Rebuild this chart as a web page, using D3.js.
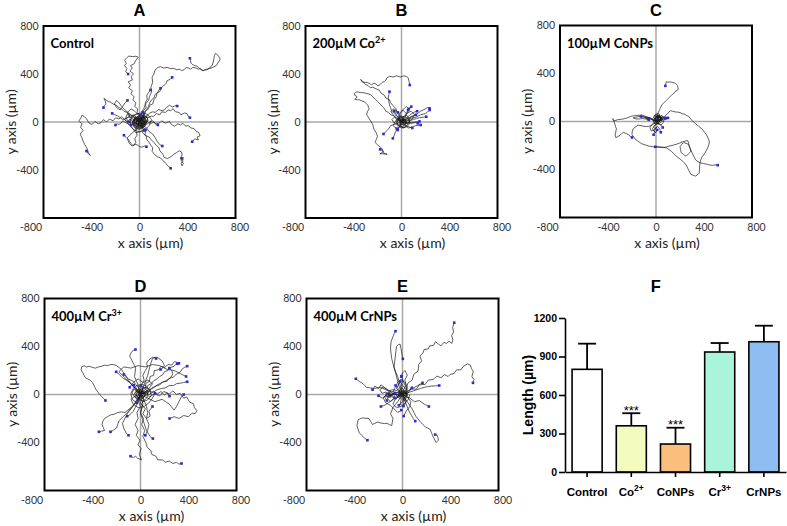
<!DOCTYPE html>
<html><head><meta charset="utf-8">
<script src="https://cdn.jsdelivr.net/npm/d3@7"></script>
<style>body{margin:0;background:#fff} svg{display:block}</style>
</head><body>
<svg id="c" width="787" height="526"></svg>
<script>
// ---------------- DATA ----------------
// Trajectory tracks (µm): each string lists "x,y" points of one cell track; last point = end position
const tracksA = [
 "0,0 -10,30 5,55 -20,80 -15,110 -40,130 -30,160 -55,185 -45,210 -70,235 -60,260 -90,285 -75,310 -95,335 -60,350 -70,380 -50,400 -80,425 -60,450 -75,470 -45,485 -30,515 -10,540 -30,548 -60,545 -90,550 -110,530 -125,515 -110,490 -125,470 -105,445 -115,420 -95,400",
 "0,0 -30,20 -55,5 -80,25 -100,0 -125,20 -150,45 -170,25 -200,35 -220,10 -250,25 -275,0 -300,20 -320,-5 -345,-15 -370,5 -395,-20 -420,-10 -440,25 -460,45 -478,58 -490,30 -505,10 -480,-15 -490,-45 -470,-70 -495,-100 -480,-130 -470,-160 -455,-190 -440,-215 -425,-255 -410,-280 -430,-260 -442,-242",
 "0,0 25,-25 20,-55 50,-80 45,-110 80,-125 100,-150 120,-170 140,-195 160,-210 170,-240 195,-270 205,-295 235,-305 260,-290 285,-270 310,-255 330,-240 350,-250 355,-275 340,-300 350,-325 365,-345 355,-365 345,-345 362,-330 356,-303",
 "0,0 15,-35 35,-60 25,-90 55,-115 60,-145 80,-170 95,-195 110,-215 105,-245 125,-270 150,-290 175,-300 200,-325 220,-345 235,-365 250,-375 259,-386",
 "0,0 20,15 45,-5 60,10 90,-15 120,0 135,-20 170,-5 185,10 215,-10 250,5 265,-20 290,-35 320,-15 340,-25 360,-10 385,-35 405,-30 430,-50 455,-55 470,-75 495,-90 505,-115 480,-125 490,-150 460,-140 439,-164",
 "0,0 30,20 45,40 70,35 100,50 115,45 140,70 170,60 185,85 215,80 240,100 260,95 280,110 300,85 330,80 345,60 375,75 395,70 405,50 420,36",
 "0,0 15,30 40,45 60,50 85,75 110,85 130,80 160,105 180,95 205,100 230,125 250,140 275,125 295,135 314,133",
 "0,0 20,40 40,55 50,90 75,110 85,140 110,150 120,185 140,210 145,240 170,255 180,285 200,300 220,320 230,345 255,355 272,372",
 "0,0 15,30 35,50 40,80 60,105 75,130 85,160 100,185 120,200 130,230 150,245 160,265 175,281",
 "0,0 5,30 20,55 15,85 35,110 45,135 50,165 65,190 60,220 75,245 92,267",
 "0,0 20,30 35,60 30,90 55,120 50,150 75,180 85,215 100,250 95,290 110,330 105,370 120,400 130,434 155,455 175,461 200,450 230,455 260,445 286,447 310,435 330,440 350,430 370,434 390,455 410,450 425,440 445,455 470,450 490,440 509,447 530,425 545,435 564,434 580,450 596,460 606,475 615,500 620,530 625,555 634,572 650,560 665,540 672,525 670,517 655,495 640,470 620,460 600,450 580,445 560,440 540,432 520,430 500,445 480,465 460,470 440,480 430,490 425,510 420,531",
 "0,0 -20,25 -45,35 -65,55 -80,60 -105,80 -130,90 -150,110 -170,120 -195,140 -220,150 -240,165 -260,170 -280,185 -297,197 -285,175 -280,150 -295,135 -300,120",
 "0,0 -25,15 -50,20 -70,35 -90,40 -115,30 -140,20 -160,35 -180,50 -205,60 -228,72",
 "0,0 -20,-15 -40,-10 -65,-25 -90,-20 -115,-5 -140,10 -155,-10 -170,-20 -185,-15 -200,-25",
 "0,0 -15,-30 -30,-50 -40,-75 -60,-90 -80,-110 -100,-130 -95,-155 -90,-170 -75,-190 -60,-200 -40,-185 -20,-190 0,-205 20,-210 40,-200 58,-206",
 "0,0 15,-20 20,-35 40,-50 50,-67",
 "0,0 30,-15 60,-20 85,0 110,10 130,-10 153,-25",
 "0,0 -30,30 -60,50 -90,75 -120,100 -150,130 -170,160 -190,180 -210,150 -190,120 -160,100 -140,130 -120,160 -100,180",
 "0,0 -10,-40 -30,-70 -20,-110 -40,-140 -30,-170 -50,-200 -70,-180 -90,-150 -110,-130 -130,-110",
 "0,0 30,-30 60,-50 80,-80 110,-100 130,-130 147,-160 170,-190 190,-200",
 "0,0 15,20 -10,40 -30,15 -20,-25 10,-35 30,-10 20,25 -5,10 -25,35 -45,10 -35,-30 -5,-50 25,-40 45,-10 35,30",
 "0,0 -25,10 -40,-15 -15,-40 20,-30 40,5 25,35 -10,30 -35,45 -50,20 -60,-15 -40,-45 -10,-60 20,-55 50,-30 60,10 40,45 10,60",
 "0,0 20,-15 45,-5 30,30 -5,50 -40,30 -60,-10 -40,-45 0,-60 35,-40 55,-15 70,25 45,55 10,75 -25,65 -55,45 -75,15 -70,-25",
 "0,0 -10,-20 15,-45 40,-30 55,0 40,40 0,55 -30,35 -55,5 -45,-35 -20,-20 5,-15 25,10 10,25 -15,20",
 "0,0 30,10 10,35 -20,25 -35,-5 -15,-30 25,-25 50,15 20,60 -20,70 -60,50 -80,10 -70,-40 -40,-70 0,-80 40,-70",
 "0,0 -20,30 -50,60 -80,40 -100,70 -120,20 -90,-20 -60,-50 -30,-90 10,-80 50,-60 80,-30 100,20 70,60 30,80",
 "0,0 40,-20 70,10 60,50 20,30 -10,60 -40,90 -70,110 -100,80 -80,50 -110,30 -90,0",
 "0,0 10,15 -15,25 -5,-10 15,-20 30,5 5,30 -25,15 -15,-25 20,-35 40,-15 25,20",
 "0,0 -15,5 -5,-20 20,-10 10,20 -20,10 -30,-15 -5,-30 25,-25 35,5 15,30 -15,35 -40,20 -45,-10",
 "0,0 25,25 5,45 -25,40 -45,20 -50,-15 -30,-40 0,-45 30,-35 50,-10 45,25 25,50"
];
const tracksB = [
 "0,0 -15,25 -20,55 -40,80 -45,110 -70,135 -90,160 -100,185 -130,200 -145,225 -170,240 -185,265 -210,275 -240,290 -260,285 -280,305 -305,315 -320,335 -340,355 -330,335 -310,330 -285,330 -265,320 -250,310 -230,325 -210,315 -197,300 -175,315 -160,330 -140,340 -130,350 -120,370 -100,380 -70,375 -40,385 -10,375 20,385 40,380 55,370 60,350 65,330 69,308",
 "0,0 -20,15 -40,30 -60,50 -75,55 -90,60 -110,80 -130,90 -145,115 -160,130 -180,150 -200,170 -215,185 -230,200 -245,215 -260,230 -280,235 -300,240 -320,245 -340,245 -360,250 -375,250 -390,240 -392,225 -375,215 -370,205 -385,195 -390,190 -370,185 -350,185 -330,175 -310,170 -295,155 -280,140 -275,120 -270,110 -285,85 -290,60 -280,45 -270,30 -255,5 -240,-20 -235,-40 -230,-60 -220,-75 -210,-90 -205,-105 -200,-120 -210,-145 -220,-170 -205,-185 -190,-200 -175,-210 -160,-225 -155,-245 -150,-260 -135,-262 -120,-270 -150,-265 -180,-265 -165,-255 -150,-245 -165,-235 -178,-228",
 "0,0 -15,20 -20,30 -35,45 -50,60 -65,75 -80,90 -90,115 -100,140 -105,170 -110,200 -105,230 -100,253",
 "0,0 20,15 40,20 60,30 80,40 100,50 120,60 140,75 160,90 180,100 200,110 215,120 233,114",
 "0,0 25,5 50,10 75,15 100,20 125,30 150,35 180,40 206,44",
 "0,0 20,-5 40,-5 65,-10 90,-10 115,-5 136,-11",
 "0,0 15,20 30,40 40,60 50,80 65,105 81,128",
 "0,0 -10,-20 -20,-40 -35,-60 -50,-80 -60,-110 -72,-136",
 "0,0 -10,-30 -31,-67",
 "0,0 -30,-10 -60,-20 -90,-30 -110,-60 -130,-80 -150,-100",
 "0,0 30,20 60,35 90,50 120,60",
 "0,0 40,30 70,60 100,80 130,90",
 "0,0 35,-10 70,-5 110,0 150,5",
 "0,0 30,-25 60,-40 90,-50",
 "0,0 20,40 40,70 55,100",
 "0,0 -30,40 -50,70 -60,90",
 "0,0 20,30 -10,50 -40,20 -30,-20 10,-40 40,-10 30,25 5,10 -20,30 -45,5 -30,-30 0,-50 30,-40",
 "0,0 -30,15 -60,40 -80,20 -60,-10 -20,-30 20,-50 50,-20 70,20 40,60 10,40 -20,50",
 "0,0 25,-20 60,-5 90,25 110,60 80,90 40,70 10,100 -10,70 -30,40",
 "0,0 -15,-25 10,-50 45,-40 70,-10 55,30 20,45 -20,35 -50,10 -70,-30 -40,-55",
 "0,0 40,10 80,30 120,40 160,60 200,70 235,100",
 "0,0 30,-30 60,-50 90,-40 120,-30 160,-25",
 "0,0 -40,30 -70,60 -90,90 -60,110 -30,80",
 "0,0 10,40 -20,70 10,100 40,130 60,110",
 "0,0 15,15 -5,30 -20,10 -10,-15 15,-25 35,-5 25,20 0,35 -25,25 -35,0",
 "0,0 -10,10 10,20 25,5 15,-15 -5,-20 -20,-5 -10,15 20,25 40,10 35,-15 15,-30"
];
const tracksC = [
 "0,0 5,25 10,50 20,75 30,100 40,120 50,140 65,155 80,170 95,185 110,200 125,215 140,230 155,240 165,255 180,262 185,270 182,285 180,300 170,310 160,320 140,325 120,330 100,328 85,330 82,318 80,310 78,297",
 "0,0 20,10 40,20 60,35 80,50 100,70 120,90 140,85 160,80 180,78 200,75 220,65 240,60 255,50 270,45 285,25 300,10 315,-5 330,-20 345,-30 360,-45 375,-55 390,-70 405,-90 420,-110 435,-140 445,-170 440,-195 430,-220 420,-240 410,-260 395,-280 380,-300 370,-330 365,-360 362,-395 360,-430 345,-445 330,-455 310,-448 290,-440 280,-420 270,-400 260,-380 250,-360 230,-340 210,-320 190,-305 170,-290 150,-270 130,-250 110,-235 90,-222 65,-215 40,-212 15,-210 -6,-211",
 "0,0 -15,-15 -30,-30 -45,-35 -60,-40 -80,-42 -100,-40 -125,-35 -150,-30 -170,-45 -190,-60 -198,-85 -200,-110 -185,-130 -170,-150 -145,-168 -120,-185 -90,-195 -60,-205 -30,-210 0,-212 30,-215 60,-218 85,-212 110,-205 140,-198 170,-190 195,-180 220,-170 245,-162 265,-160 272,-180 275,-200 285,-225 290,-250 270,-270 250,-290 230,-275 210,-260 205,-235 200,-210 215,-190 230,-175 250,-182 270,-190 285,-225 300,-260 315,-290 330,-320 350,-335 370,-345 395,-350 420,-355 445,-362 470,-365 490,-362 514,-364",
 "0,0 -20,10 -40,20 -60,30 -80,40 -100,48 -120,55 -140,52 -160,50 -180,48 -200,45 -220,38 -240,30 -260,25 -280,20 -300,18 -320,15 -335,10 -350,5 -358,15 -360,25 -352,5 -345,-15 -338,-40 -330,-60 -335,-85 -340,-110 -338,-125 -335,-135 -318,-125 -300,-115 -285,-100 -270,-90 -250,-100 -230,-110 -215,-122 -200,-133",
 "0,0 -25,15 -50,30 -75,35 -100,40 -125,42 -150,40 -170,35 -190,30 -175,25 -160,20 -135,22 -110,25 -85,20 -60,15",
 "0,0 20,30 -10,50 -30,20 -10,-20 20,-10 40,20 20,50 0,35 -15,10 5,-5 25,15",
 "0,0 -20,20 10,45 40,30 60,10 30,-15 -10,-30 -30,-60 -10,-90 -20,-110",
 "0,0 30,10 60,30 80,20 100,30",
 "0,0 -10,40 10,70 30,60 20,30 50,40 80,30",
 "0,0 -30,-20 -50,-50 -40,-80 -10,-70 10,-40 30,-60 40,-90",
 "0,0 15,-20 40,-30 60,-10 70,20 50,50 20,40 0,60 -20,45",
 "0,0 -25,10 -45,30 -70,35 -90,30 -60,20",
 "0,0 -20,10 -40,20 -60,25 -80,30 -100,35 -125,42",
 "0,0 20,5 40,10 60,18 78,25",
 "0,0 15,-10 30,-20 45,-35 56,-50",
 "0,0 10,20 25,35 15,50 30,40 45,30 35,10 20,25 5,40 -10,25 5,10 25,5 40,20 30,45",
 "0,0 15,15 30,5 20,-10 5,5 20,25 35,15 45,35 25,50 10,35 25,20 40,5 50,25",
 "0,0 -10,15 5,30 20,20 10,5 25,-5 40,10 30,30 15,45 0,30 -15,20 -5,5",
 "0,0 10,-15 -5,-30 -20,-45 -10,-60 5,-45 -15,-75 -5,-95 10,-70",
 "0,0 25,10 45,25 35,45 15,55 0,40 20,30 40,40 55,25 45,5",
 "0,0 -15,-10 -5,-25 10,-15 0,5 20,15 30,0 15,-20"
];
const tracksD = [
 "0,0 -10,40 -20,80 -35,115 -50,150 -45,185 -40,220 -55,250 -70,280 -80,300 -90,320 -80,345 -70,360 -55,370 -42,375",
 "0,0 -25,20 -40,40 -60,65 -80,90 -100,120 -120,150 -140,180 -160,210 -180,225 -200,240 -225,250 -250,250 -275,240 -300,245 -325,235 -350,230 -375,220 -400,225 -425,235 -450,230 -470,240 -490,230 -495,205 -480,180 -470,160 -460,140 -440,130 -420,120 -400,100 -390,80 -380,60 -370,40 -355,20 -340,0 -325,-15 -310,-30 -300,-40 -292,-50",
 "0,0 -15,-30 -30,-60 -55,-85 -80,-110 -105,-130 -130,-150 -160,-145 -190,-150 -220,-165 -250,-170 -275,-185 -300,-200 -315,-225 -320,-250 -310,-275 -300,-300 -325,-305 -347,-311",
 "0,0 -25,-40 -50,-80 -75,-110 -100,-140 -120,-160 -140,-180 -160,-200 -180,-220 -190,-250 -200,-280 -215,-290 -230,-300 -250,-311",
 "0,0 -20,-50 0,-100 -30,-150 -20,-200 -45,-250 -20,-300 -35,-340 -5,-380 -20,-420 5,-450 -10,-500 8,-545 -25,-530 -40,-515 -60,-525 -83,-514",
 "0,0 -10,-50 15,-95 0,-150 25,-200 10,-250 35,-300 20,-350 45,-400 55,-440 85,-465 95,-500 130,-515 145,-545 185,-545 205,-565 240,-555 270,-575 300,-565 320,-580 342,-575",
 "0,0 10,-40 20,-80 10,-120 0,-160 15,-200 30,-240 40,-270 50,-300 65,-325 80,-350 90,-360 103,-367",
 "0,0 40,15 75,-20 115,5 160,-10 195,25 240,5 270,30 300,0 330,10 360,-30 385,-20 410,-65 440,-75 450,-110 470,-135 455,-160 430,-155 400,-185 360,-175 320,-200 280,-185 242,-200",
 "0,0 20,25 45,45 60,75 90,90 110,115 130,125 160,150 185,165 200,190 230,200 250,225 280,235 290,250 306,256",
 "0,0 30,15 70,30 95,55 130,70 160,80 185,105 220,110 240,135 275,145 300,170 330,185 345,210 365,225 389,236",
 "0,0 35,10 70,25 105,20 140,40 175,50 205,55 240,75 275,75 300,90 335,95 360,100 389,106",
 "0,0 40,20 70,0 110,25 140,5 170,25 200,-5 220,15 242,-14",
 "0,0 15,40 30,80 45,120 60,160 70,200 80,240 90,270 100,300 120,310 140,310 160,295 180,280 190,260 200,240 185,220 167,208",
 "0,0 10,40 40,55 45,95 75,110 80,150 110,160 115,200 150,205 170,235 200,225 230,250 260,245 285,275 320,260",
 "0,0 -10,30 -20,60 -40,85 -60,110 -80,120 -100,130 -120,150 -139,167",
 "0,0 -20,25 -40,50 -65,75 -90,100 -120,120 -150,140 -175,165 -203,189",
 "0,0 -15,-40 -30,-80 -45,-110 -60,-140 -75,-155 -90,-170 -111,-181",
 "0,0 -20,30 -40,60 -56,78",
 "0,0 -30,35 -60,70 -90,100 -120,130 -150,160 -180,190 -160,210 -140,230 -110,225 -80,220 -50,230 -20,240 10,235 40,230 70,240 100,250 130,245 160,240 190,225 220,210 250,205 280,200 310,185 340,170 360,160 380,150",
 "0,0 30,-15 60,-30 90,-45 120,-60 150,-50 180,-40 210,-60 240,-80 260,-105 280,-130 290,-115 300,-100 310,-80 320,-60 330,-40 340,-20 350,-10 360,0",
 "0,0 20,40 10,80 30,120 20,160 40,200 60,230 50,260 70,290 100,310 130,300",
 "0,0 50,30 100,50 140,80 180,100 220,120 250,140 270,170 260,200 240,220",
 "0,0 -30,-40 -50,-80 -80,-120 -110,-160 -130,-200 -150,-240 -140,-280 -120,-320 -100,-340",
 "0,0 30,-50 50,-100 60,-150 50,-200 70,-250 60,-300 40,-340",
 "0,0 20,30 -10,50 -40,20 -30,-25 10,-40 40,-10 30,30 -5,15 -25,40 -50,10 -35,-35",
 "0,0 -30,20 -55,45 -70,15 -50,-20 -15,-45 25,-55 55,-25 60,20 35,55 0,70",
 "0,0 25,-20 55,0 75,35 50,70 10,85 -30,75 -60,50 -80,10 -70,-40 -30,-70",
 "0,0 -15,-30 20,-60 60,-45 90,-10 80,40 40,60 -10,40",
 "0,0 40,20 70,50 100,90 60,120 20,100 -20,130 -60,100 -90,60",
 "0,0 -40,-10 -80,-40 -60,-80 -20,-110 30,-100 70,-70 100,-30 120,10",
 "0,0 30,-40 10,-80 40,-120 20,-160 50,-200 80,-180 70,-140 100,-100",
 "0,0 15,15 -5,30 -20,10 -10,-15 15,-25 35,-5 25,20 0,35 -25,25 -35,0 -20,-25",
 "0,0 -10,10 10,20 25,5 15,-15 -5,-20 -20,-5 -10,15 20,25 40,10 35,-15 15,-30"
];
const tracksE = [
 "0,0 30,40 45,95 80,120 95,170 130,195 135,250 160,280 145,320 170,345 180,375 215,380 225,405 260,410 275,440 300,420 320,405 345,435 365,425 390,445 410,425 420,455 410,490 425,520 418,560 431,598",
 "0,0 45,10 70,45 115,45 140,80 190,85 215,120 255,125 286,153 320,140 350,165 380,150 397,167 430,175 450,205 485,205 509,236 540,255 565,245 575,215 590,190 578,150 595,125 587,97",
 "0,0 30,10 60,20 90,30 120,40 150,50 180,60 210,65 240,70 275,72 306,75",
 "0,0 30,20 60,40 90,55 120,70 145,85 167,97",
 "0,0 -10,40 -20,80 -30,115 -40,150 -55,185 -70,220 -80,260 -90,300 -95,340 -100,380 -98,410 -95,440 -88,460 -80,480 -70,505 -58,528",
 "0,0 -15,35 -30,70 -40,110 -50,150 -60,190 -70,230 -65,275 -60,320 -55,360 -50,400 -35,415 -20,420 -15,395 -10,370 -5,335 3,297",
 "0,0 -30,10 -60,20 -90,25 -120,30 -150,45 -180,60 -210,55 -240,50 -270,55 -300,60 -315,75 -330,90 -345,100 -360,110 -375,120 -389,131",
 "0,0 -20,-30 -40,-60 -60,-85 -80,-110 -90,-135 -100,-160 -90,-180 -80,-200 -85,-230 -90,-260 -110,-250 -130,-240 -150,-242 -170,-240 -190,-235 -210,-230 -230,-240 -250,-250 -265,-225 -280,-200 -305,-198 -330,-195 -350,-200 -370,-210 -375,-235 -380,-260 -370,-290 -360,-320 -340,-340 -320,-360 -305,-372 -292,-381",
 "0,0 20,-30 40,-60 60,-90 80,-120 95,-150 110,-180 130,-205 150,-230 170,-250 190,-270 210,-280 230,-290 240,-315 250,-340 265,-370 280,-400 290,-390 300,-380 295,-360 290,-340 280,-335 272,-334",
 "0,0 15,-40 30,-80 45,-115 60,-150 75,-175 90,-200 98,-212 106,-222",
 "0,0 -40,-10 -80,10 -110,-10 -140,20 -170,10 -190,40 -160,60 -120,40 -100,10 -130,-30 -100,-60 -70,-30 -90,0 -120,10 -150,-20 -130,-50",
 "0,0 -50,-30 -90,-20 -130,0 -160,-30 -140,-70 -100,-90 -70,-120 -40,-150 -10,-130",
 "0,0 -40,30 -80,40 -120,30 -150,60 -180,80 -200,50 -230,70 -250,40",
 "0,0 -10,30 -5,60 -10,90 5,110 0,130 -8,153",
 "0,0 20,10 40,20 60,40 78,56",
 "0,0 30,-15 60,-30 80,-45 100,-60 120,-55 140,-50 160,-65 180,-80 200,-90 220,-100",
 "0,0 -15,20 -30,40 -45,60 -58,75",
 "0,0 5,-25 10,-50 10,-75 8,-97",
 "0,0 10,40 30,80 20,120 40,160 20,200 0,180 -10,150",
 "0,0 -50,-20 -90,-50 -120,-70 -150,-90 -180,-100",
 "0,0 -30,20 -70,10 -110,-20 -140,-10 -170,-30 -200,-10",
 "0,0 40,-20 70,-60 60,-100 30,-140 10,-180",
 "0,0 20,30 -10,60 -30,20 -10,-30 20,-50 40,-10 30,40 0,80 -20,110",
 "0,0 -20,20 -50,50 -30,90 0,120 20,80 40,40 30,-10 0,-60 -30,-90",
 "0,0 15,-25 30,-60 10,-100 -20,-80 -10,-40 -40,-20 -60,10",
 "0,0 25,15 40,60 20,100 -10,130 -40,100 -60,60 -80,20 -60,-30",
 "0,0 -30,-10 -60,-40 -80,-80 -50,-110 -10,-100 20,-70 50,-40 60,0",
 "0,0 15,15 -5,30 -20,10 -10,-15 15,-25 35,-5 25,20 0,35 -25,25 -35,0 -20,-25",
 "0,0 -10,10 10,20 25,5 15,-15 -5,-20 -20,-5 -10,15 20,25 40,10 35,-15 15,-30",
 "0,0 -100,0 -120,20 -140,-10 -110,-30 -90,-10 -120,0 -100,25 -80,5 -105,-15 -130,5"
];
const axisTicksX = [-800, -400, 0, 400, 800];
const axisTicksY = [800, 400, 0, -400];

// Bar chart (panel F)
const barCategories = ["Control", "Co2+", "CoNPs", "Cr3+", "CrNPs"];
const barLabelMain = ["Control", "Co", "CoNPs", "Cr", "CrNPs"];
const barLabelSup = ["", "2+", "", "3+", ""];
const barMeans = [800, 360, 218, 935, 1015];
const barErrTop = [1000, 458, 345, 1005, 1140];
const barStars = ["", "***", "***", "", ""];
const barColors = ["#ffffff", "#f3fbbf", "#fbbf7d", "#abf4dc", "#8ebdf2"];
const lengthTicks = [0, 300, 600, 900, 1200];

// ---------------- DRAW ----------------
const svg = d3.select("#c");
const FONT = "Lato, 'Open Sans', sans-serif";
const TFONT = "'Liberation Sans', Arial, sans-serif";
const SIZE = 192;
const panels = [
  {letter: "A", main: "Control", sup: "", left: 43.5, top: 26, titleY: 15.5, tracks: tracksA},
  {letter: "B", main: "200µM Co", sup: "2+", left: 305.5, top: 26, titleY: 15.5, tracks: tracksB},
  {letter: "C", main: "100µM CoNPs", sup: "", left: 560, top: 25.5, titleY: 15.5, tracks: tracksC},
  {letter: "D", main: "400µM Cr", sup: "3+", left: 44.5, top: 298.5, titleY: 292, tracks: tracksD},
  {letter: "E", main: "400µM CrNPs", sup: "", left: 306.5, top: 298.5, titleY: 292, tracks: tracksE}
];
const parse = s => s.split(" ").map(p => p.split(",").map(Number));
const plain = d => String(d);

panels.forEach(p => {
  const x = d3.scaleLinear().domain([-800, 800]).range([p.left, p.left + SIZE]);
  const y = d3.scaleLinear().domain([-800, 800]).range([p.top + SIZE, p.top]);
  const g = svg.append("g");

  g.append("line").attr("x1", x(0)).attr("x2", x(0)).attr("y1", y(800)).attr("y2", y(-800))
    .attr("stroke", "#a8a8a8").attr("stroke-width", 1.5);
  g.append("line").attr("x1", x(-800)).attr("x2", x(800)).attr("y1", y(0)).attr("y2", y(0))
    .attr("stroke", "#a8a8a8").attr("stroke-width", 1.5);

  const data = p.tracks.map(parse);
  const line = d3.line().x(d => x(d[0])).y(d => y(d[1]));
  g.selectAll("path.trk").data(data).join("path").attr("class", "trk")
    .attr("d", line).attr("fill", "none").attr("stroke", "#1a1a1a").attr("stroke-width", 0.7)
    .attr("stroke-linejoin", "round");
  const ends = data.map(d => d[d.length - 1]).filter(e => Math.hypot(e[0], e[1]) > 60);
  g.selectAll("rect.end").data(ends).join("rect").attr("class", "end")
    .attr("x", e => x(e[0]) - 1.3).attr("y", e => y(e[1]) - 1.3)
    .attr("width", 2.6).attr("height", 2.6).attr("fill", "#2b2bd0");

  g.append("rect").attr("x", p.left).attr("y", p.top).attr("width", SIZE).attr("height", SIZE)
    .attr("fill", "none").attr("stroke", "#000").attr("stroke-width", 2);

  const ax = g.append("g").attr("transform", `translate(0,${p.top + SIZE})`)
    .call(d3.axisBottom(x).tickValues(axisTicksX).tickFormat(plain).tickSize(0).tickPadding(6));
  ax.select(".domain").remove();
  ax.selectAll("text").attr("font-family", FONT).attr("font-size", 10.5).attr("fill", "#333")
    .attr("dx", d => d === -800 ? -13 : (d === 800 ? 4 : 0));
  const ay = g.append("g").attr("transform", `translate(${p.left},0)`)
    .call(d3.axisLeft(y).tickValues(axisTicksY).tickFormat(plain).tickSize(0).tickPadding(5));
  ay.select(".domain").remove();
  ay.selectAll("text").attr("font-family", FONT).attr("font-size", 10.5).attr("fill", "#333");

  g.append("text").attr("x", p.left + SIZE / 2 + 11).attr("y", p.top + SIZE + 30)
    .attr("text-anchor", "middle").attr("font-family", FONT).attr("font-size", 14).attr("fill", "#222")
    .text("x axis (µm)");
  g.append("text").attr("transform", `translate(${p.left - 28},${p.top + SIZE / 2}) rotate(-90)`)
    .attr("text-anchor", "middle").attr("font-family", FONT).attr("font-size", 14).attr("fill", "#222")
    .text("y axis (µm)");

  g.append("text").attr("x", x(0)).attr("y", p.titleY).attr("text-anchor", "middle")
    .attr("font-family", TFONT).attr("font-weight", "bold").attr("font-size", 16.5).text(p.letter);

  const t = g.append("text").attr("x", p.left + 7).attr("y", p.top + 22)
    .attr("font-family", FONT).attr("font-weight", "bold").attr("font-size", 13);
  t.append("tspan").text(p.main);
  if (p.sup) t.append("tspan").attr("dy", -5).attr("font-size", 9).text(p.sup);
});

// ---------------- Panel F (bar chart) ----------------
(function () {
  const AF = "'Liberation Sans', Arial, sans-serif";
  const left = 565, right = 786, y0 = 472, y1 = 318;
  const xb = d3.scaleBand().domain(barCategories).range([left, right]).paddingInner(0.32).paddingOuter(0.16);
  const yb = d3.scaleLinear().domain([0, 1200]).range([y0, y1]);
  const g = svg.append("g");
  const rows = barCategories.map((c, i) => ({c, m: barMeans[i], e: barErrTop[i], col: barColors[i], s: barStars[i], lm: barLabelMain[i], ls: barLabelSup[i]}));
  const cx = d => xb(d.c) + xb.bandwidth() / 2;

  g.selectAll("line.err").data(rows).join("line").attr("class", "err")
    .attr("x1", cx).attr("x2", cx)
    .attr("y1", d => yb(d.m)).attr("y2", d => yb(d.e)).attr("stroke", "#000").attr("stroke-width", 1.8);
  g.selectAll("line.cap").data(rows).join("line").attr("class", "cap")
    .attr("x1", d => cx(d) - 9).attr("x2", d => cx(d) + 9)
    .attr("y1", d => yb(d.e)).attr("y2", d => yb(d.e)).attr("stroke", "#000").attr("stroke-width", 1.8);

  g.selectAll("rect.bar").data(rows).join("rect").attr("class", "bar")
    .attr("x", d => xb(d.c)).attr("width", xb.bandwidth())
    .attr("y", d => yb(d.m)).attr("height", d => yb(0) - yb(d.m))
    .attr("fill", d => d.col).attr("stroke", "#000").attr("stroke-width", 1.6);

  g.selectAll("text.star").data(rows.filter(d => d.s)).join("text").attr("class", "star")
    .attr("x", cx).attr("y", d => yb(d.e) + 1.5)
    .attr("text-anchor", "middle").attr("font-family", AF).attr("font-size", 13).text(d => d.s);

  const ay = g.append("g").attr("transform", `translate(${left},0)`)
    .call(d3.axisLeft(yb).tickValues(lengthTicks).tickSize(6).tickSizeOuter(0).tickPadding(2).tickFormat(d3.format("d")));
  ay.select(".domain").attr("stroke-width", 1.6);
  ay.selectAll(".tick line").attr("stroke-width", 1.6);
  ay.selectAll("text").attr("font-family", AF).attr("font-weight", "bold").attr("font-size", 10.5).attr("fill", "#000");

  const ax = g.append("g").attr("transform", `translate(0,${y0})`)
    .call(d3.axisBottom(xb).tickSize(5).tickSizeOuter(0).tickFormat(""));
  ax.select(".domain").attr("stroke-width", 1.6);
  ax.selectAll(".tick line").attr("stroke-width", 1.6);

  const lab = g.selectAll("text.xl").data(rows).join("text").attr("class", "xl")
    .attr("x", cx).attr("y", 496)
    .attr("text-anchor", "middle").attr("font-family", AF).attr("font-weight", "bold").attr("font-size", 11.5);
  lab.append("tspan").text(d => d.lm);
  lab.filter(d => d.ls).append("tspan").attr("dy", -5).attr("font-size", 8.5).text(d => d.ls);

  g.append("text").attr("transform", `translate(533,${(y0 + y1) / 2}) rotate(-90)`)
    .attr("text-anchor", "middle").attr("font-family", AF).attr("font-weight", "bold").attr("font-size", 14)
    .text("Length (µm)");

  g.append("text").attr("x", 655.7).attr("y", 292).attr("text-anchor", "middle")
    .attr("font-family", TFONT).attr("font-weight", "bold").attr("font-size", 16.5).text("F");
})();
</script>
</body></html>
